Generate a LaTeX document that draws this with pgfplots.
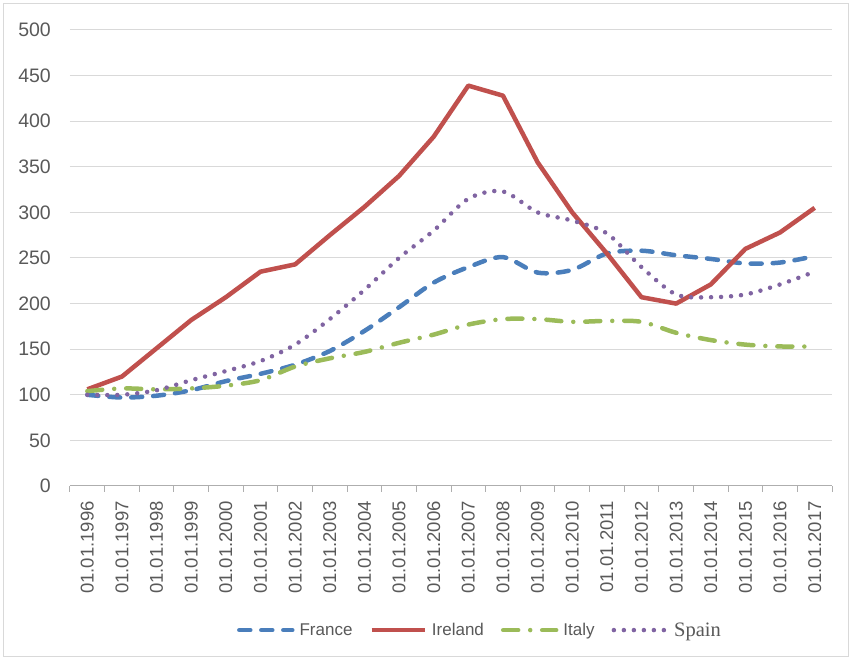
\documentclass[border=0pt]{standalone}
\usepackage{fontspec}
\setmainfont{Liberation Sans}
\newfontfamily\seriffont{Liberation Serif}
\usepackage{pgfplots}
\pgfplotsset{compat=1.18}
\definecolor{cFr}{HTML}{4A7EBB}
\definecolor{cIr}{HTML}{C0504D}
\definecolor{cIt}{HTML}{9BBB59}
\definecolor{cSp}{HTML}{8064A2}
\definecolor{txt}{HTML}{595959}
\definecolor{grd}{HTML}{D9D9D9}
\begin{document}
\begin{tikzpicture}
\useasboundingbox (-70pt,-174pt) rectangle (782pt,486pt);
\draw[grd, line width=1pt] (-66pt,-171pt) rectangle (778pt,482pt);
\begin{axis}[
  at={(0pt,0pt)}, anchor=south west,
  scale only axis, width=762pt, height=456pt,
  xmin=-0.5, xmax=21.5, ymin=0, ymax=500,
  ytick={0,50,...,500},
  xtick={0,...,21},
  xticklabels={01.01.1996,01.01.1997,01.01.1998,01.01.1999,01.01.2000,01.01.2001,01.01.2002,01.01.2003,01.01.2004,01.01.2005,01.01.2006,01.01.2007,01.01.2008,01.01.2009,01.01.2010,01.01.2011,01.01.2012,01.01.2013,01.01.2014,01.01.2015,01.01.2016,01.01.2017},
  minor xtick={-0.5,0.5,...,21.5},
  major tick length=0pt, minor tick length=6pt,
  tick align=outside,
  minor tick style={grd!80!black, line width=1pt},
  axis x line*=bottom, axis y line*=left,
  separate axis lines,
  x axis line style={grd!80!black, line width=1pt},
  y axis line style={draw=none},
  ymajorgrids, grid style={grd, line width=1pt},
  /pgf/number format/assume math mode=true,
  yticklabel style={inner sep=0pt, anchor=east, font=\fontsize{19.5}{22}\selectfont, text=txt},
  yticklabel shift=19pt,
  xticklabel style={rotate=90, anchor=east, inner sep=0pt, font=\fontsize{18.5}{22}\selectfont, text=txt},
  xticklabel shift=15pt,
  legend columns=4,
  legend style={draw=none, at={(0.538,-0.316)}, anchor=center, font=\fontsize{17}{20}\selectfont, text=txt, column sep=3pt,
    /tikz/every even column/.append style={column sep=15pt}},
  legend cell align=left,
  legend image code/.code={\draw[#1] (0pt,0pt) -- (53pt,0pt);},
]
\addplot[cFr, line width=4.5pt, line cap=round, dash pattern=on 11pt off 11pt, smooth, tension=0.5] coordinates {
(0,100) (1,97) (2,99) (3,105) (4,115) (5,123) (6,133) (7,148) (8,170) (9,196) (10,223) (11,240) (12,251) (13,234) (14,237) (15,255) (16,258) (17,253) (18,249) (19,244) (20,245) (21,252)};
\addlegendentry{France}
\addplot[cIr, line width=4.5pt, line join=round] coordinates {
(0,106) (1,120) (2,151) (3,182) (4,207) (5,235) (6,243) (7,275) (8,306) (9,340) (10,383) (11,439) (12,428) (13,355) (14,300) (15,255) (16,207) (17,200) (18,221) (19,260) (20,278) (21,305)};
\addlegendentry{Ireland}
\addplot[cIt, line width=4.5pt, line cap=round, dash pattern=on 15pt off 12pt on 0pt off 12pt, smooth, tension=0.5] coordinates {
(0,104) (1,107) (2,106) (3,107) (4,110) (5,116) (6,131) (7,140) (8,147) (9,157) (10,166) (11,177) (12,183) (13,183) (14,180) (15,181) (16,180) (17,168) (18,160) (19,155) (20,153) (21,153)};
\addlegendentry{Italy}
\addplot[cSp, line width=4.5pt, line cap=round, dash pattern=on 0pt off 10pt, smooth, tension=0.5] coordinates {
(0,100) (1,100) (2,105) (3,116) (4,126) (5,137) (6,155) (7,183) (8,215) (9,250) (10,280) (11,315) (12,323) (13,300) (14,291) (15,277) (16,240) (17,210) (18,207) (19,210) (20,221) (21,235)};
\addlegendentry{{\seriffont\fontsize{20.5}{22}\selectfont Spain}}
\end{axis}
\end{tikzpicture}
\end{document}
